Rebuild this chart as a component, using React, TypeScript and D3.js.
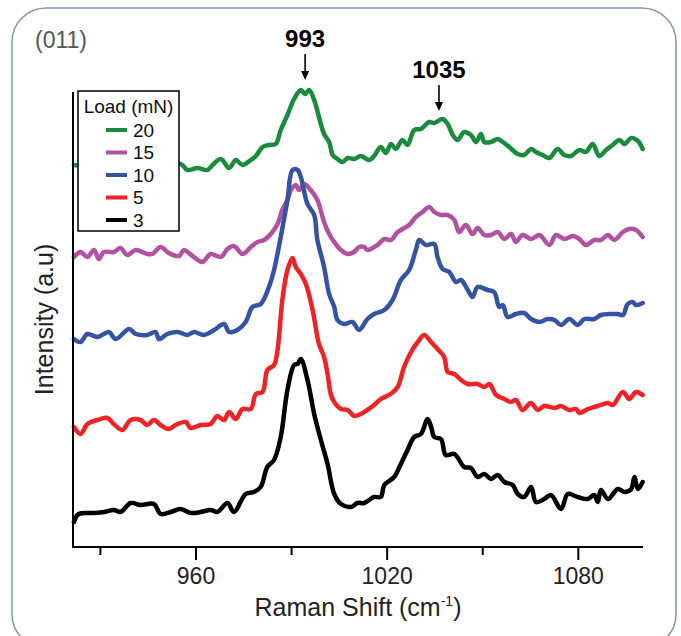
import React, { useEffect, useRef } from 'react';
import * as d3 from 'd3';

// Raman spectra, (wavenumber cm-1, intensity a.u. incl. stacking offset)
const load3: [number, number][] = [
  [921.7, 25], [923.2, 33], [928, 34], [931.1, 35], [934.2, 37], [936.3, 35], [939.5, 44], [942.6, 42],
  [946.8, 43], [948.9, 33], [952.1, 35], [955.2, 38], [958.3, 34], [961.5, 35], [964.6, 37], [966.7, 35],
  [969.9, 44], [971.9, 35], [975.6, 53], [978.2, 55], [980.3, 60], [982.4, 80], [984.5, 87], [986.6, 110],
  [988.7, 157], [990.8, 182], [991.9, 183], [992.9, 188], [995, 167], [997.1, 133], [999.2, 107],
  [1001.3, 83], [1003.4, 53], [1005.5, 43], [1008.6, 40], [1010.7, 44], [1012.8, 44], [1015.9, 50],
  [1018, 50], [1019.1, 62], [1022.2, 70], [1024.3, 83], [1026.4, 97], [1028.5, 110], [1030.6, 113],
  [1032.7, 128], [1033.8, 120], [1034.8, 110], [1036.9, 108], [1038.4, 92], [1041.1, 93], [1044.2, 80],
  [1046.3, 79], [1048.4, 70], [1050.5, 73], [1052.6, 68], [1054.7, 72], [1056.8, 65], [1059.4, 62],
  [1061, 53], [1063, 50], [1065.2, 60], [1066.7, 45], [1069.3, 48], [1071.4, 52], [1074.6, 38],
  [1076.7, 53], [1079.8, 50], [1083, 48], [1085, 52], [1086.1, 45], [1087.1, 57], [1089.3, 48],
  [1092.4, 58], [1094.5, 55], [1096.6, 58], [1097.6, 70], [1098.7, 58], [1100.2, 65],
];

const load5: [number, number][] = [
  [921.7, 120], [923.8, 113], [925.9, 123], [929, 127], [932.2, 129], [934.2, 123], [936.9, 117],
  [939.5, 127], [942.6, 127], [944.7, 122], [946.8, 127], [948.9, 122], [951.5, 118], [953.6, 122],
  [956.8, 125], [958.3, 119], [961.5, 122], [964.6, 123], [966.7, 131], [968.8, 127], [970.4, 135],
  [972.5, 128], [974.6, 138], [977.2, 138], [978.8, 153], [980.9, 155], [982.4, 177], [984.5, 182],
  [985.6, 197], [987.1, 247], [988.7, 277], [990.3, 289], [991.3, 280], [992.9, 273], [994.5, 263],
  [996.6, 237], [998.1, 210], [998.6, 203], [1000.2, 190], [1001.3, 173], [1002.3, 153], [1003.4, 145],
  [1005.5, 138], [1007.6, 137], [1009.6, 131], [1011.7, 133], [1015.9, 142], [1018, 148], [1021.1, 153],
  [1023.3, 160], [1025.3, 180], [1027.5, 195], [1029.6, 205], [1031.6, 212], [1033.8, 205], [1035.8, 198],
  [1037.9, 190], [1039, 175], [1041.1, 173], [1043.2, 167], [1045.3, 163], [1048.4, 163], [1050.5, 160],
  [1052.1, 163], [1054.2, 152], [1056.8, 148], [1058.9, 145], [1060.4, 147], [1062.5, 137], [1065.1, 144],
  [1067.3, 137], [1069.3, 141], [1072.5, 139], [1074.6, 141], [1077.2, 137], [1079.3, 138], [1080.3, 134],
  [1083, 138], [1086.1, 141], [1089.3, 144], [1090.8, 142], [1094, 155], [1096, 148], [1098.1, 155],
  [1100.2, 152],
];

const load10: [number, number][] = [
  [921.7, 208], [923.8, 205], [925.9, 213], [929, 210], [932.7, 215], [934.8, 208], [939, 218], [941.1, 213],
  [944.7, 212], [947.3, 215], [948.4, 208], [951, 213], [954.2, 215], [957.3, 212], [959.4, 215],
  [962.5, 212], [965.7, 217], [968.8, 223], [970.4, 215], [973, 217], [975.6, 225], [977.7, 240],
  [980.3, 243], [982.9, 260], [984.5, 277], [986.6, 310], [988.7, 347], [990.3, 377], [991.9, 377],
  [992.9, 370], [995, 343], [997.1, 332], [998.1, 307], [1000.2, 280], [1001.8, 253], [1003.4, 240],
  [1004.4, 227], [1006.5, 223], [1009.1, 225], [1011.2, 217], [1013.8, 228], [1015.9, 233], [1019.1, 237],
  [1021.7, 247], [1024.3, 267], [1026.9, 277], [1029, 297], [1030.1, 307], [1032.2, 302], [1034.8, 303],
  [1035.8, 290], [1037.4, 278], [1039.5, 275], [1041.6, 265], [1043.2, 267], [1045.3, 257], [1046.8, 250],
  [1048.4, 260], [1051.5, 257], [1053.6, 255], [1055.2, 240], [1056.3, 242], [1057.8, 230], [1060.4, 233],
  [1063, 234], [1065.2, 228], [1067.8, 225], [1070.4, 228], [1072.5, 227], [1074.6, 222], [1077.2, 228],
  [1079.8, 222], [1081.9, 228], [1085, 228], [1087.1, 232], [1090.3, 233], [1092.4, 233], [1094, 232],
  [1095.5, 243], [1097.1, 245], [1098.1, 242], [1100.2, 244],
];

const load15: [number, number][] = [
  [921.7, 290], [923.8, 295], [925.9, 290], [928, 297], [929.5, 288], [931.1, 295], [934.2, 295],
  [936.3, 299], [938.4, 292], [941.1, 297], [944.7, 293], [946.3, 293], [948.9, 300], [951.5, 294],
  [954.7, 291], [956.2, 297], [958.9, 291], [962, 285], [964.6, 293], [967.8, 290], [969.9, 298],
  [971.9, 301], [974.6, 293], [977.2, 300], [979.3, 305], [981.4, 307], [984, 315], [985.6, 323],
  [987.1, 337], [988.7, 347], [989.8, 357], [991.3, 362], [992.4, 357], [993.9, 363], [996, 357],
  [998.1, 347], [1000.2, 325], [1001.8, 313], [1003.4, 305], [1005.5, 297], [1007.6, 293], [1009.6, 295],
  [1011.2, 300], [1012.8, 300], [1013.8, 297], [1017, 302], [1019.1, 308], [1021.2, 307], [1023.3, 315],
  [1024.8, 318], [1026.9, 322], [1029, 330], [1031.1, 335], [1033.2, 340], [1034.8, 335], [1036.9, 332],
  [1039, 332], [1041.1, 327], [1042.6, 315], [1044.7, 322], [1046.8, 313], [1048.4, 319], [1050.5, 312],
  [1052.6, 312], [1054.7, 315], [1056.8, 308], [1058.9, 313], [1060.4, 305], [1062.5, 312], [1065.2, 308],
  [1067.8, 312], [1070.9, 302], [1073, 312], [1075.6, 308], [1078.3, 311], [1080.3, 308], [1082.4, 302],
  [1085, 307], [1087.1, 307], [1089.3, 312], [1091.3, 307], [1094, 315], [1096, 318], [1098.1, 317],
  [1100.2, 310],
];

const load20: [number, number][] = [
  [921.7, 382], [929, 381], [941.6, 383], [955.2, 383], [957.3, 377], [960.4, 379], [963.6, 377],
  [965.2, 382], [967.8, 388], [970.4, 379], [972.5, 387], [974.6, 382], [977.2, 387], [978.8, 391],
  [980.9, 400], [982.9, 402], [985, 403], [986.6, 417], [988.7, 432], [990.8, 448], [992.9, 457],
  [994.2, 453], [995.5, 457], [997.1, 447], [998.6, 430], [1000.2, 413], [1001.8, 405], [1002.9, 392],
  [1004.4, 388], [1006, 385], [1007.6, 389], [1009.6, 388], [1011.7, 391], [1014.4, 387], [1015.9, 391],
  [1018, 400], [1019.6, 394], [1021.2, 403], [1022.7, 398], [1024.8, 407], [1026.4, 402], [1028.5, 417],
  [1030.6, 418], [1033.2, 425], [1034.8, 424], [1037.4, 428], [1039, 423], [1040.6, 412], [1042.1, 407],
  [1044.2, 415], [1046.3, 412], [1047.9, 405], [1049.4, 413], [1050.5, 405], [1052.6, 405], [1054.7, 408],
  [1056.3, 405], [1058.3, 400], [1061, 393], [1063, 392], [1065.2, 398], [1066.7, 395], [1068.8, 392],
  [1070.9, 389], [1073.5, 398], [1075.6, 392], [1077.7, 391], [1080.3, 397], [1082.4, 395], [1084.5, 403],
  [1086.6, 391], [1088.7, 397], [1090.8, 402], [1092.9, 407], [1094.5, 403], [1096.6, 409], [1098.7, 406],
  [1100.2, 398],
];

const loads = ['20', '15', '10', '5', '3'];
const colors = ['#1a8a3c', '#b1519f', '#3453a3', '#ee2326', '#000000'];
const seriesData = [load20, load15, load10, load5, load3];

const majorTicks = [960, 1020, 1080];
const minorTicks = [930, 990, 1050];
const peakLabels = ['993', '1035'];
const peakPositions = [993, 1035];

const FONT = '"Liberation Sans", Arial, sans-serif';

const App = () => {
  const ref = useRef<SVGSVGElement>(null);

  useEffect(() => {
    const svg = d3.select(ref.current);
    svg.selectAll('*').remove();

    const left = 73, right = 643, top = 92, bottom = 547;

    const x = d3.scaleLinear().domain([921.4, 1100.3]).range([left, right]);
    const y = d3.scaleLinear().domain([0, 455]).range([bottom, top]);

    // rounded frame
    svg.append('rect')
      .attr('x', 12).attr('y', 8)
      .attr('width', 664).attr('height', 640)
      .attr('rx', 34)
      .attr('fill', 'none')
      .attr('stroke', '#8497a3')
      .attr('stroke-width', 1.5);

    svg.append('text')
      .attr('x', 35).attr('y', 48)
      .attr('font-family', FONT).attr('font-size', 23)
      .attr('fill', '#555')
      .text('(011)');

    const line = d3.line<[number, number]>()
      .x(d => x(d[0]))
      .y(d => y(d[1]))
      .curve(d3.curveCatmullRom.alpha(0.5));

    seriesData.forEach((s, i) => {
      svg.append('path')
        .datum(s)
        .attr('d', line)
        .attr('fill', 'none')
        .attr('stroke', colors[i])
        .attr('stroke-width', 4.5)
        .attr('stroke-linejoin', 'round')
        .attr('stroke-linecap', 'round');
    });

    // axes
    svg.append('line')
      .attr('x1', left).attr('x2', left).attr('y1', top).attr('y2', bottom)
      .attr('stroke', '#000').attr('stroke-width', 2);

    const xAxis = svg.append('g').attr('transform', `translate(0,${bottom})`);
    xAxis.append('line')
      .attr('x1', left - 1).attr('x2', right).attr('stroke', '#000').attr('stroke-width', 2);
    xAxis.selectAll('.minor').data(minorTicks).enter().append('line')
      .attr('x1', d => x(d)).attr('x2', d => x(d))
      .attr('y1', 0).attr('y2', 8)
      .attr('stroke', '#000').attr('stroke-width', 2);
    xAxis.selectAll('.major').data(majorTicks).enter().append('line')
      .attr('x1', d => x(d)).attr('x2', d => x(d))
      .attr('y1', 0).attr('y2', 13)
      .attr('stroke', '#000').attr('stroke-width', 2);
    xAxis.selectAll('.lbl').data(majorTicks).enter().append('text')
      .attr('x', d => x(d)).attr('y', 37)
      .attr('text-anchor', 'middle')
      .attr('font-family', FONT).attr('font-size', 23)
      .attr('fill', '#222')
      .text(d => d);

    const xt = svg.append('text')
      .attr('x', (left + right) / 2).attr('y', 616)
      .attr('text-anchor', 'middle')
      .attr('font-family', FONT).attr('font-size', 25)
      .attr('fill', '#222');
    xt.append('tspan').text('Raman Shift (cm');
    xt.append('tspan').attr('font-size', 14).attr('dy', -10).text('-1');
    xt.append('tspan').attr('dy', 10).text(')');

    svg.append('text')
      .attr('transform', `translate(53,${(top + bottom) / 2}) rotate(-90)`)
      .attr('text-anchor', 'middle')
      .attr('font-family', FONT).attr('font-size', 25)
      .attr('fill', '#222')
      .text('Intensity (a.u)');

    // peak annotations
    const arrowTops = [54, 85];
    peakPositions.forEach((p, i) => {
      const px = x(p) + 4;
      const t = arrowTops[i];
      svg.append('text')
        .attr('x', px).attr('y', t - 7)
        .attr('text-anchor', 'middle')
        .attr('font-family', FONT).attr('font-size', 24).attr('font-weight', 'bold')
        .attr('fill', '#000')
        .text(peakLabels[i]);
      svg.append('line')
        .attr('x1', px).attr('x2', px).attr('y1', t).attr('y2', t + 19)
        .attr('stroke', '#000').attr('stroke-width', 1.6);
      svg.append('path')
        .attr('d', `M${px - 4},${t + 17} L${px + 4},${t + 17} L${px},${t + 26} Z`)
        .attr('fill', '#000');
    });

    // legend
    const lg = svg.append('g');
    lg.append('rect')
      .attr('x', 78).attr('y', 91).attr('width', 101).attr('height', 140)
      .attr('fill', '#fff').attr('stroke', '#000').attr('stroke-width', 1.5);
    lg.append('text')
      .attr('x', 128.5).attr('y', 113)
      .attr('text-anchor', 'middle')
      .attr('font-family', FONT).attr('font-size', 19)
      .attr('fill', '#111')
      .text('Load (mN)');
    loads.forEach((l, i) => {
      const ly = 130 + i * 22.5;
      lg.append('line')
        .attr('x1', 106).attr('x2', 127).attr('y1', ly).attr('y2', ly)
        .attr('stroke', colors[i]).attr('stroke-width', 4);
      lg.append('text')
        .attr('x', 133).attr('y', ly + 6.5)
        .attr('font-family', FONT).attr('font-size', 19)
        .attr('fill', '#111')
        .text(l);
    });
  }, []);

  return (
    <svg ref={ref} width={681} height={636}
      style={{ position: 'absolute', left: 0, top: 0, background: '#fff' }} />
  );
};

export default App;
